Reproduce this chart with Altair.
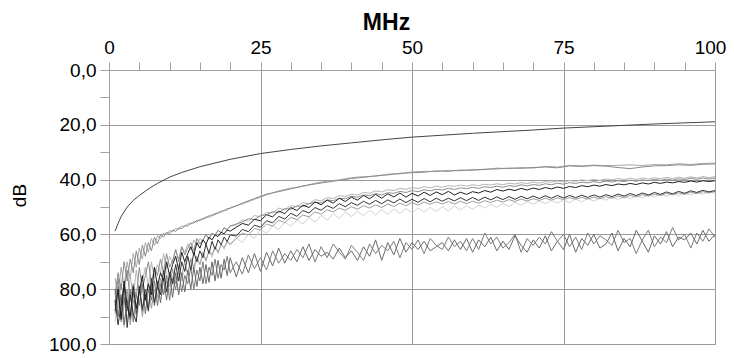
import altair as alt
import pandas as pd

# ---- frequency sampling points (MHz) ----
FREQ_FINE = [1 + 0.5 * i for i in range(39)] + list(range(21, 101))      # 119 points
FREQ_TOP = [1 + 0.5 * i for i in range(39)] + list(range(22, 101, 2))     # 79 points

# ---- smooth reference curve ----
A_F = [1, 1.5, 2, 3, 4, 5, 6, 7, 8, 10, 12, 15, 20, 25, 30, 35, 40, 45, 50,
       55, 60, 65, 70, 75, 80, 85, 90, 95, 100]
A_DB = [58.8, 56, 53.5, 50, 47.6, 45.8, 44.2, 42.7, 41.4, 39.1, 37.4, 35.3, 32.6,
        30.5, 29, 27.7, 26.6, 25.5, 24.5, 23.8, 23.1, 22.5, 21.9, 21.2, 20.7,
        20.2, 19.7, 19.3, 18.9]

# ---- top pair ----
B_DB = [82, 74, 80, 70, 77, 69, 74, 66, 71, 64,
        68, 63, 66, 61, 63.5, 60, 61, 59.2, 59.8, 58.4,
        58.9, 57.6, 57.9, 56.8, 56.9, 55.8, 55.9, 54.9, 55, 54.1,
        54, 53.2, 53.3, 52.4, 52.3, 51.5, 51.4, 50.6, 50.5,
        48.6, 46.9, 45.3, 44.4, 43.4, 42.3, 41.6, 40.9, 40.3, 39.6,
        39.2, 38.6, 38.3, 37.7, 37.5, 37.3, 36.8, 37.0, 36.5, 36.6,
        36.2, 36.1, 35.8, 35.9, 35.6, 35.4, 35.7, 35.0, 35.2, 34.9,
        35.1, 35.6, 36.0, 35.4, 35.0, 34.9, 34.6, 34.8, 34.4, 34.3]
C_DB = [76, 83, 72, 79, 70, 76, 67, 72, 65, 69,
        63, 66.5, 61.5, 64, 60.5, 61.5, 59.5, 60.2, 58.6, 59,
        57.8, 58.2, 56.9, 57.2, 56.1, 56.3, 55.2, 55.5, 54.4, 54.6,
        53.6, 53.8, 52.7, 52.9, 51.9, 52, 51.1, 51.2, 50.2,
        48.9, 47.2, 45.6, 44.1, 43.1, 42.5, 41.3, 40.6, 40.1, 39.3,
        38.9, 38.8, 38.0, 37.9, 37.2, 37.0, 37.1, 36.6, 36.8, 36.3,
        36.4, 35.8, 36.0, 35.6, 35.8, 35.2, 35.4, 34.8, 35.0, 34.7,
        34.9, 34.8, 34.6, 34.9, 34.5, 34.6, 34.2, 34.5, 34.1, 34.0]

# ---- middle group ----
D1_DB = [80, 87, 78, 84, 88, 75, 83, 73, 81, 77,
         72, 79, 70, 76, 71, 74, 67, 72.5, 68, 70.5,
         65.5, 69, 64.5, 66.5, 63.5, 65.5, 62, 64, 61.5, 62.5,
         60, 62, 59.5, 60.5, 58.5, 59.6, 57.5, 58.4, 56.8,
         56.6, 54.6, 55.2, 53.1, 53.6, 51.9, 52.2, 50.4, 51.0, 49.5,
         49.9, 48.4, 48.8, 47.3, 47.8, 46.6, 46.9, 45.8, 46.2, 45.3,
         45.6, 44.7, 45.0, 44.1, 44.5, 43.7, 44.0, 43.2, 43.6, 42.9,
         43.3, 42.6, 43.0, 42.4, 42.8, 42.2, 42.5, 42.0, 42.4, 41.9,
         42.2, 41.7, 42.0, 41.5, 41.9, 41.3, 41.6, 41.1, 41.5, 40.9,
         41.3, 40.7, 41.0, 40.5, 40.9, 40.3, 40.6, 40.1, 40.4, 39.9,
         40.3, 39.8, 40.1, 39.6, 40.0, 39.5, 39.9, 39.4, 39.8, 39.3,
         39.7, 39.2, 39.6, 39.1, 39.5, 39.0, 39.4, 38.9, 39.3, 38.9]
D2_DB = [85, 76, 86, 80, 73, 84, 78, 83, 72, 80,
         75, 70, 78, 72, 75, 69, 74, 67, 72, 69.5,
         65.5, 70, 64.5, 67.5, 65, 63, 66, 61.5, 63.5, 62,
         60, 61.5, 59.6, 60.2, 58.5, 59.4, 57.6, 58.2, 57,
         56.2, 55.5, 54.3, 54.6, 53.1, 52.8, 51.7, 52.0, 50.6, 50.8,
         49.6, 49.9, 48.8, 48.3, 48.5, 47.4, 47.7, 46.8, 47.0, 46.1,
         46.4, 45.6, 45.9, 45.1, 45.6, 44.8, 45.0, 44.3, 44.7, 44.0,
         44.4, 43.7, 44.1, 43.5, 43.8, 43.2, 43.6, 43.0, 43.3, 42.8,
         43.2, 42.6, 42.9, 42.4, 42.8, 42.2, 42.5, 41.9, 42.3, 41.8,
         42.1, 41.5, 41.9, 41.3, 41.7, 41.1, 41.4, 40.9, 41.2, 40.7,
         41.1, 40.5, 40.9, 40.4, 40.7, 40.2, 40.6, 40.1, 40.4, 39.9,
         40.3, 39.8, 40.2, 39.7, 40.0, 39.5, 39.9, 39.4, 39.8, 39.5]
D3_DB = [88, 80, 91, 77, 86, 90, 79, 87, 81, 75,
         84, 78, 82, 72, 79, 74, 77, 70, 75, 71,
         68, 73, 66.5, 70, 67, 64.5, 67.5, 63, 65, 62,
         63.5, 61, 62, 60.2, 60.8, 59.2, 59.8, 58.4, 58.8,
         57.4, 56.0, 56.6, 54.5, 55.0, 52.8, 53.6, 51.5, 52.4, 50.2,
         51.3, 49.3, 50.2, 48.1, 49.2, 47.5, 48.6, 46.8, 48.0, 46.4,
         47.5, 45.8, 47.0, 45.4, 46.8, 45.2, 46.3, 44.9, 46.4, 45.0,
         46.0, 44.6, 45.8, 44.5, 45.5, 44.3, 45.6, 44.6, 45.4, 44.4,
         44.9, 44.0, 44.6, 43.6, 44.2, 43.5, 44.0, 43.2, 43.8, 43.1,
         43.6, 42.9, 43.4, 42.7, 43.2, 42.5, 42.9, 42.2, 42.6, 42.0,
         42.4, 41.8, 42.2, 41.6, 41.9, 41.4, 41.8, 41.2, 41.6, 41.0,
         41.4, 40.9, 41.2, 40.7, 41.0, 40.5, 40.9, 40.4, 40.7, 40.4]

# ---- lower group ----
E1_DB = [92, 81, 88, 94, 83, 90, 78, 91, 85, 79,
         89, 80, 84, 76, 86, 78, 81, 73, 82, 75,
         78, 71, 77, 72.5, 74, 68.5, 74, 69, 71, 67,
         70, 65.5, 68.5, 64.5, 67, 63.5, 65.5, 62.8, 64,
         61.2, 63.0, 60.0, 61.5, 58.2, 59.6, 56.8, 58.2, 55.6, 57.0,
         54.8, 56.2, 53.8, 55.5, 53.0, 54.8, 52.4, 54.2, 51.8, 53.5,
         51.5, 53.3, 51.2, 52.9, 50.9, 52.7, 50.8, 52.3, 50.5, 52.2,
         50.3, 51.9, 50.1, 51.6, 49.9, 51.4, 49.7, 51.0, 49.5, 50.8,
         49.3, 50.4, 49.0, 50.1, 48.7, 49.8, 48.3, 49.4, 48.0, 49.0,
         47.8, 48.8, 47.6, 48.6, 47.4, 48.4, 47.1, 48.1, 46.9, 47.8,
         46.7, 47.5, 46.4, 47.2, 46.2, 47.0, 45.9, 46.7, 45.6, 46.3,
         45.4, 46.0, 45.1, 45.8, 44.9, 45.6, 44.7, 45.4, 44.5, 45.0]
E2_DB = [84, 93, 86, 78, 94, 82, 89, 92, 79, 87,
         82, 88, 76, 85, 79, 82, 73, 81, 74, 78,
         71, 77, 70, 73.5, 68, 73, 66.5, 70, 66, 68.5,
         63.5, 67, 62.5, 65.5, 62, 63.8, 61, 62.6, 60.2,
         60.6, 58.2, 59.0, 56.6, 57.4, 55.0, 55.8, 53.4, 54.4, 52.3,
         53.4, 51.3, 52.2, 50.2, 51.2, 49.5, 50.5, 48.8, 49.9, 48.4,
         49.4, 47.9, 49.0, 47.6, 48.8, 47.4, 48.5, 47.1, 48.4, 47.2,
         48.3, 46.9, 48.1, 46.8, 47.9, 46.8, 47.8, 46.6, 47.7, 46.5,
         47.6, 46.4, 47.4, 46.3, 47.3, 46.2, 47.2, 46.1, 47.0, 46.0,
         46.9, 45.9, 46.8, 45.8, 46.7, 45.8, 46.6, 45.7, 46.5, 45.6,
         46.4, 45.5, 46.2, 45.3, 46.0, 45.1, 45.8, 44.9, 45.6, 44.7,
         45.4, 44.5, 45.2, 44.3, 45.0, 44.1, 44.7, 43.9, 44.5, 44.0]
E3_DB = [89, 82, 92, 86, 80, 93, 84, 88, 79, 90,
         83, 78, 87, 80, 83, 76, 82, 77, 79, 72.5,
         78, 73, 75, 70, 74.5, 69, 72, 68, 71, 66.5,
         69.5, 66, 67.5, 64.5, 66.5, 63.8, 64.8, 62.5, 63.5,
         61.5, 59.6, 60.2, 57.8, 58.3, 56.2, 57.0, 54.8, 55.7, 53.8,
         54.6, 52.9, 53.6, 51.8, 52.6, 51.0, 51.8, 50.4, 51.2, 49.9,
         50.8, 49.5, 50.4, 49.2, 50.2, 48.9, 49.8, 48.6, 49.5, 48.4,
         49.3, 48.2, 49.0, 48.1, 48.9, 48.0, 48.9, 47.9, 48.8, 47.9,
         48.6, 47.7, 48.4, 47.5, 48.2, 47.3, 48.0, 47.1, 47.8, 47.0,
         47.6, 46.8, 47.5, 46.7, 47.3, 46.6, 47.2, 46.5, 47.1, 46.4,
         47.0, 46.2, 46.8, 46.0, 46.6, 45.8, 46.3, 45.5, 46.0, 45.3,
         45.8, 45.0, 45.6, 44.8, 45.4, 44.6, 45.1, 44.4, 44.9, 44.3]

# ---- bottom noisy pair ----
F1_DB = [80, 90, 82, 93, 84, 91, 81, 89, 79, 88,
         80, 87, 78, 86, 77, 85, 76, 84, 75, 83,
         74, 82, 74, 81, 73, 80, 72, 79, 72, 78,
         71, 77.5, 70, 77, 69.5, 76, 69, 75, 68.5,
         75.5, 68.5, 74.0, 67.0, 73.5, 66.5, 71.5, 65.0, 70.5, 66.0,
         70.0, 64.5, 69.5, 65.5, 68.0, 66.5, 69.0, 65.0, 68.5, 66.0,
         69.5, 64.5, 68.0, 62.0, 69.5, 63.0, 67.5, 61.5, 66.5, 63.0,
         65.5, 62.5, 66.0, 64.5, 63.0, 66.0, 62.0, 65.5, 61.5, 66.5,
         62.0, 64.5, 61.0, 66.0, 62.5, 65.5, 60.5, 64.0, 66.5, 62.0,
         65.0, 60.5, 66.0, 62.5, 65.5, 60.0, 66.5, 61.5, 64.0, 60.0,
         65.0, 63.5, 59.5, 66.0, 61.5, 64.5, 58.5, 62.5, 66.5, 60.5,
         63.5, 59.0, 64.5, 61.0, 62.0, 59.5, 63.5, 58.5, 62.5, 60.0]
F2_DB = [86, 79, 91, 83, 88, 80, 92, 82, 86, 78,
         89, 80, 84, 77, 86, 78, 82, 75, 84, 76,
         80, 73, 81, 75, 78, 72, 80, 73, 77, 70,
         78, 72, 75, 69, 76, 71, 73, 68, 74,
         70.0, 74.5, 67.5, 72.5, 68.5, 73.0, 66.0, 70.5, 67.0, 69.5,
         65.5, 68.5, 63.5, 70.0, 64.5, 68.5, 63.5, 66.5, 69.0, 64.0,
         66.5, 69.5, 63.5, 67.0, 64.0, 66.0, 62.5, 68.5, 63.0, 65.5,
         62.0, 67.0, 61.5, 64.0, 65.5, 61.0, 64.5, 62.5, 66.0, 61.5,
         65.5, 59.5, 63.5, 61.0, 65.0, 63.0, 60.0, 66.5, 61.5, 64.0,
         61.0, 63.5, 59.0, 62.5, 60.0, 64.5, 61.0, 65.5, 59.5, 63.5,
         60.5, 62.0, 64.0, 58.5, 63.0, 61.5, 67.0, 62.0, 58.5, 64.5,
         61.0, 63.0, 57.5, 62.0, 60.0, 65.0, 59.5, 62.5, 58.0, 61.0]

# draw order (back to front), colours
SERIES = [
    ("01", FREQ_FINE, E1_DB, "#d2d2d2"),
    ("02", FREQ_FINE, D1_DB, "#b4b4b4"),
    ("03", FREQ_TOP, C_DB, "#a8a8a8"),
    ("04", FREQ_FINE, E3_DB, "#9c9c9c"),
    ("05", FREQ_FINE, D2_DB, "#8c8c8c"),
    ("06", FREQ_TOP, B_DB, "#8a8a8a"),
    ("07", FREQ_FINE, F2_DB, "#7c7c7c"),
    ("08", FREQ_FINE, F1_DB, "#6a6a6a"),
    ("09", FREQ_FINE, E2_DB, "#333333"),
    ("10", FREQ_FINE, D3_DB, "#1f1f1f"),
    ("11", A_F, A_DB, "#444444"),
]

rows = []
for name, fs, dbs, _ in SERIES:
    assert len(fs) == len(dbs), (name, len(fs), len(dbs))
    for f, d in zip(fs, dbs):
        rows.append({"series": name, "f": f, "db": d})
df = pd.DataFrame(rows)

names = [s[0] for s in SERIES]
colors = [s[3] for s in SERIES]

x_axis = alt.Axis(
    orient="top",
    values=list(range(0, 101, 5)),
    labelExpr="datum.value % 25 === 0 ? datum.label : ''",
    labelFlush=False,
    labelOffset=alt.condition("datum.value === 100", alt.value(-5), alt.value(0)),
    title="MHz",
    titleFontSize=23,
    titleFontWeight="bold",
    titleX=277,
    titleY=-41,
    titleAlign="center",
    titleBaseline="alphabetic",
    labelFontSize=19,
    labelPadding=5,
    tickSize=8,
    gridOpacity=alt.condition("datum.value % 25 === 0", alt.value(1), alt.value(0)),
)
y_axis = alt.Axis(
    values=list(range(0, 101, 10)),
    labelExpr="datum.value % 20 === 0 ? replace(format(datum.value, '.1f'), '.', ',') : ''",
    labelFlush=False,
    title="dB",
    titleFontSize=19,
    titleFontWeight="normal",
    titleAngle=270,
    titleX=-84,
    titleY=125,
    titleAlign="center",
    titleBaseline="alphabetic",
    labelFontSize=19,
    labelPadding=4,
    tickSize=9,
    gridOpacity=alt.condition("datum.value % 20 === 0", alt.value(1), alt.value(0)),
)

chart = (
    alt.Chart(df)
    .mark_line(strokeWidth=1, clip=True)
    .encode(
        x=alt.X("f:Q", scale=alt.Scale(domain=[0, 100], nice=False, zero=False), axis=x_axis),
        y=alt.Y("db:Q", scale=alt.Scale(domain=[0, 100], reverse=True, nice=False), axis=y_axis),
        color=alt.Color("series:N", scale=alt.Scale(domain=names, range=colors), legend=None),
        order=alt.Order("f:Q"),
    )
    .properties(
        width=606,
        height=274,
        autosize=alt.AutoSizeParams(type="none"),
        padding={"left": 101, "top": 62, "right": 11, "bottom": 14},
    )
    .configure(font="Liberation Sans")
    .configure_view(stroke="#9a9a9a", strokeWidth=1)
    .configure_axis(
        domainColor="#a0a0a0",
        tickColor="#a0a0a0",
        gridColor="#9a9a9a",
        labelColor="#000000",
        titleColor="#000000",
        labelFont="Liberation Sans",
        titleFont="Liberation Sans",
    )
)

chart.save("out.html", embed_options={"renderer": "svg", "actions": False})
